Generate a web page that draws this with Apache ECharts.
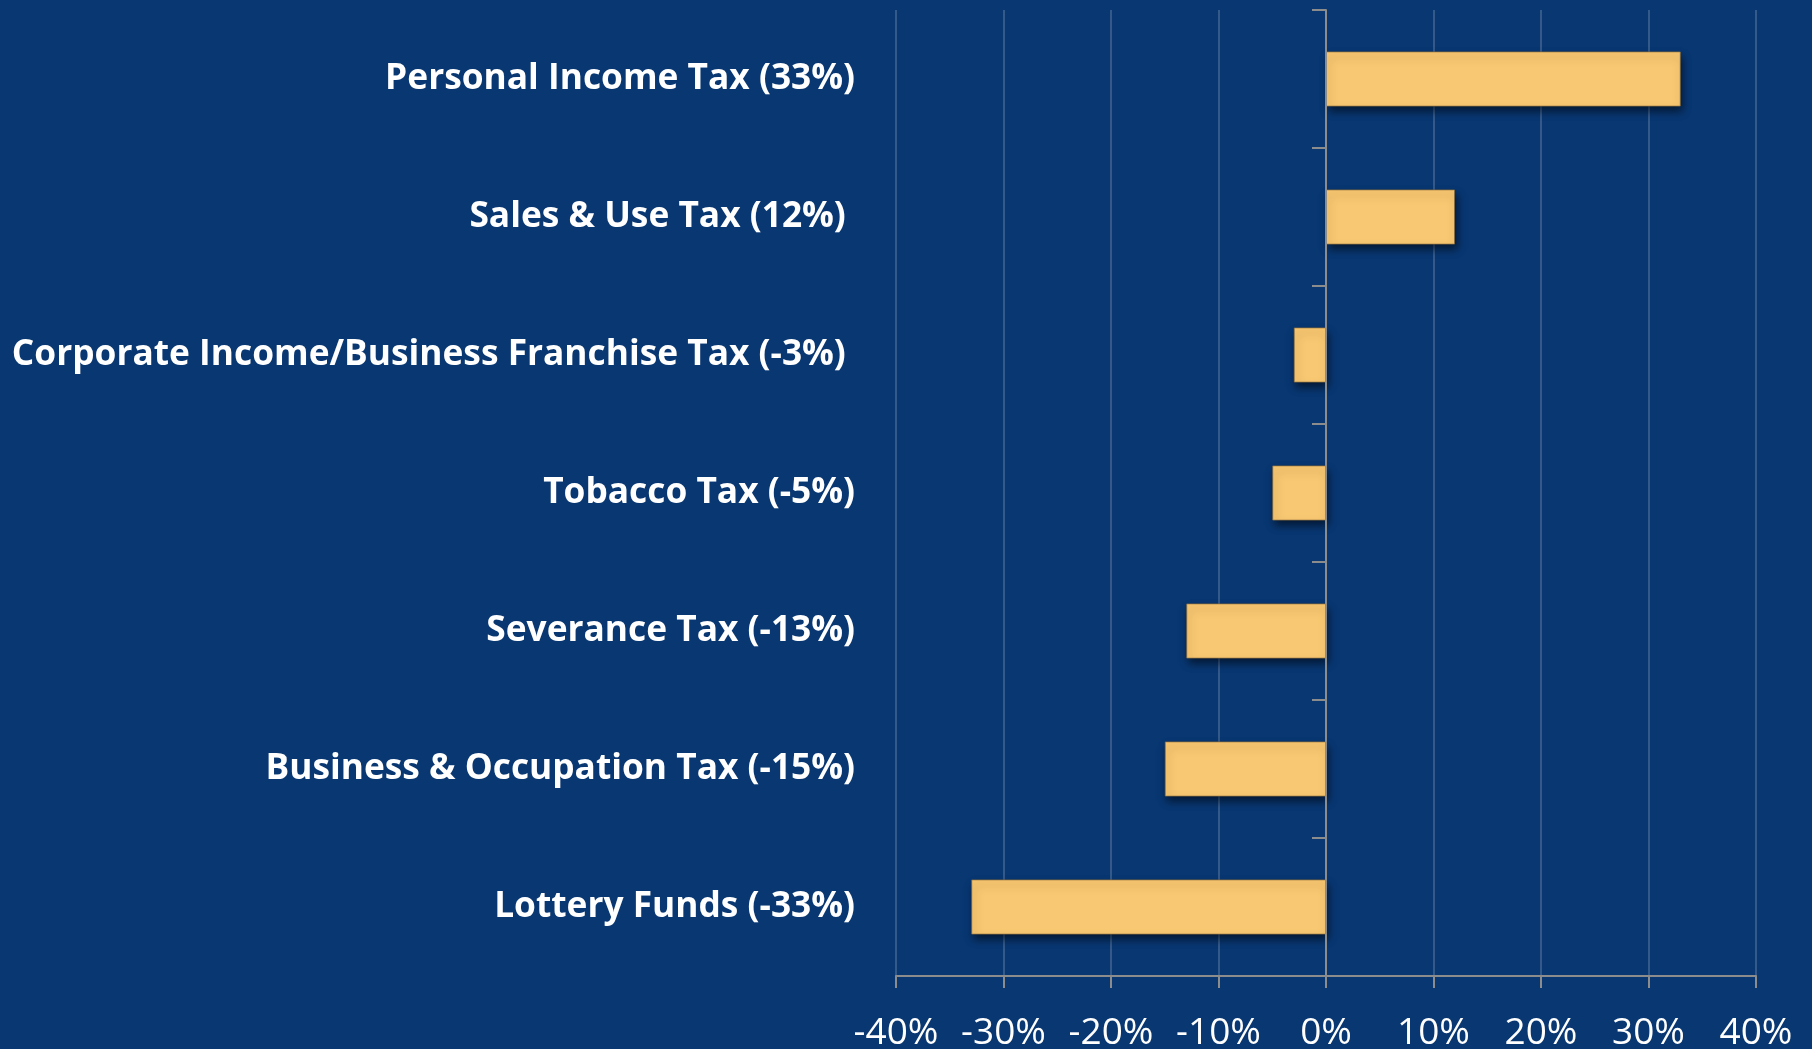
<!DOCTYPE html>
<html>
<head>
<meta charset="utf-8">
<script src="https://cdn.jsdelivr.net/npm/echarts@6/dist/echarts.min.js"></script>
<style>
html,body{margin:0;padding:0;background:#093772;}
#chart{width:1812px;height:1049px;}
</style>
</head>
<body>
<div id="chart"></div>
<script>
const categories = [
  "Personal Income Tax (33%)",
  "Sales & Use Tax (12%) ",
  "Corporate Income/Business Franchise Tax (-3%) ",
  "Tobacco Tax (-5%)",
  "Severance Tax (-13%)",
  "Business & Occupation Tax (-15%)",
  "Lottery Funds (-33%)"
];
const values = [33, 12, -3, -5, -13, -15, -33];
const tickMin = -40, tickMax = 40, tickStep = 10;

const chart = echarts.init(document.getElementById('chart'));
chart.setOption({
  backgroundColor: '#093772',
  animation: false,
  grid: { left: 896, right: 56, top: 10, bottom: 73, containLabel: false, outerBoundsMode: 'none' },
  xAxis: {
    type: 'value',
    min: tickMin, max: tickMax, interval: tickStep,
    axisLine: { show: true, onZero: false, lineStyle: { color: '#8c8c8c', width: 2 } },
    axisTick: { show: true, length: 12, lineStyle: { color: '#8c8c8c', width: 2 } },
    splitLine: { show: true, lineStyle: { color: 'rgba(255,255,255,0.24)', width: 1.5 } },
    axisLabel: {
      formatter: '{value}%', color: '#ffffff', fontFamily: 'Open Sans',
      fontSize: 37, margin: 39
    }
  },
  yAxis: [
    {
      type: 'category', data: categories, inverse: true, position: 'left',
      axisLine: { show: false, onZero: false },
      axisTick: { show: false },
      splitLine: { show: false },
      axisLabel: {
        color: '#ffffff', fontFamily: 'Open Sans', fontWeight: 'bold',
        fontSize: 35.3, margin: 41, padding: [2, 0, 0, 0]
      }
    },
    {
      type: 'category', data: categories, inverse: true, position: 'left', z: 5,
      axisLine: { show: true, onZero: true, lineStyle: { color: '#8c8c8c', width: 2 } },
      axisTick: { show: true, length: 14, lineStyle: { color: '#8c8c8c', width: 2 } },
      axisLabel: { show: false },
      splitLine: { show: false }
    }
  ],
  series: [{
    type: 'bar',
    data: values,
    yAxisIndex: 0,
    barWidth: '40%',
    itemStyle: {
      color: '#F9C872',
      borderColor: 'rgba(140,110,60,0.7)',
      borderWidth: 1,
      shadowColor: 'rgba(0,0,0,0.55)',
      shadowBlur: 8,
      shadowOffsetX: 2,
      shadowOffsetY: 5
    }
  }]
});
</script>
</body>
</html>
